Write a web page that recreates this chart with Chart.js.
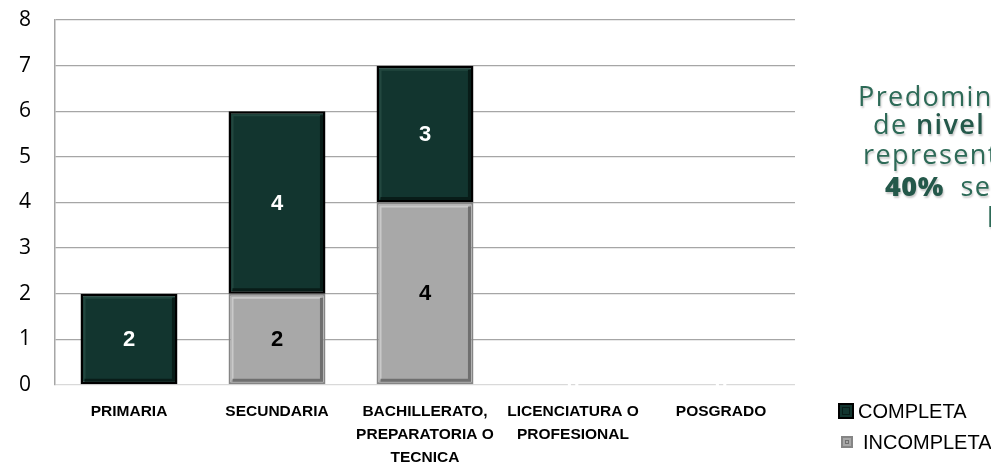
<!DOCTYPE html>
<html>
<head>
<meta charset="utf-8">
<script src="https://cdn.jsdelivr.net/npm/chart.js@4"></script>
<style>
  html, body { margin: 0; padding: 0; background: #fff; overflow: hidden; }
  #wrap { position: relative; width: 991px; height: 462px; overflow: hidden; }
  #note { position: absolute; left: 0; top: 0; width: 991px; height: 462px; pointer-events: none;
          font-family: "Open Sans"; font-size: 27px; line-height: 30px; letter-spacing: 1.4px; color: #2d6a57; }
  .ln { position: absolute; white-space: nowrap; text-shadow: 1px 2px 2px rgba(0,0,0,0.22); }
  .hl { font-weight: 600; color: #24584a; }
  .big { font-weight: 800; color: #24584a; letter-spacing: 0.5px; }
</style>
</head>
<body>
<div id="wrap">
  <canvas id="myChart" width="991" height="462"></canvas>
  <div id="note">
    <div class="ln" style="left:858px; top:81px;">Predominan las personas</div>
    <div class="ln" style="left:873px; top:109px;">de <span class="hl">nivel</span> medio superior,</div>
    <div class="ln" style="left:863px; top:139px;">representando un</div>
    <div class="ln" style="left:885px; top:171px;"><span class="big">40%</span>&nbsp; seguido de</div>
    <div class="ln" style="left:987px; top:202px;">la secundaria</div>
  </div>
</div>
<script>
var categories = [["PRIMARIA"], ["SECUNDARIA"], ["BACHILLERATO,", "PREPARATORIA O", "TECNICA"], ["LICENCIATURA O", "PROFESIONAL"], ["POSGRADO"]];
var completa = [2, 4, 3, 0, 0];   // parte oscura (arriba)
var incompleta = [0, 2, 4, 0, 0]; // parte gris (abajo)
var yMin = 0, yMax = 8, yStep = 1;

// relieve de las barras (estilo biselado)
var bevel = {
  id: "bevel",
  afterDatasetsDraw: function (chart) {
    var c = chart.ctx;
    chart.data.datasets.forEach(function (ds, di) {
      chart.getDatasetMeta(di).data.forEach(function (bar, i) {
        if (!ds.data[i]) return;
        var p = bar.getProps(["x", "y", "base", "width"], true);
        var l = p.x - p.width / 2, r = p.x + p.width / 2, t = Math.min(p.y, p.base), b = Math.max(p.y, p.base);
        var ins = ds.bevelInset;
        c.save();
        c.lineWidth = 2;
        c.strokeStyle = ds.bevelLight;
        c.beginPath();
        c.moveTo(l + ins, b - ins); c.lineTo(l + ins, t + ins); c.lineTo(r - ins, t + ins);
        c.stroke();
        c.strokeStyle = ds.bevelDark;
        c.lineWidth = 3;
        c.beginPath();
        c.moveTo(r - ins, t + ins); c.lineTo(r - ins, b - ins); c.lineTo(l + ins, b - ins);
        c.stroke();
        c.restore();
      });
    });
  }
};

// etiquetas de valor dentro de las barras
var valueLabels = {
  id: "valueLabels",
  afterDatasetsDraw: function (chart) {
    var c = chart.ctx;
    c.save();
    c.font = "bold 22px 'Liberation Sans'";
    c.textAlign = "center";
    c.textBaseline = "middle";
    chart.data.datasets.forEach(function (ds, di) {
      chart.getDatasetMeta(di).data.forEach(function (bar, i) {
        var v = ds.data[i];
        if (v === 0 && ds.labelColor !== "#fff") return;
        var p = bar.getProps(["x", "y", "base"], true);
        c.fillStyle = ds.labelColor;
        c.fillText(String(v), p.x, (p.y + p.base) / 2 + 1);
      });
    });
    c.restore();
  }
};

// leyenda abajo a la derecha
var legendBox = {
  id: "legendBox",
  afterDraw: function (chart) {
    var c = chart.ctx;
    var items = [
      { ds: chart.data.datasets[1], x: 838, y: 403, s: 16 },
      { ds: chart.data.datasets[0], x: 841, y: 436, s: 12 }
    ];
    c.save();
    c.font = "20px 'Liberation Sans'";
    c.textBaseline = "middle";
    items.forEach(function (it) {
      c.fillStyle = it.ds.borderColor;
      c.fillRect(it.x, it.y, it.s, it.s);
      c.fillStyle = it.ds.backgroundColor;
      c.fillRect(it.x + 2, it.y + 2, it.s - 4, it.s - 4);
      c.strokeStyle = it.ds.bevelDark;
      c.lineWidth = 1;
      c.strokeRect(it.x + 4.5, it.y + 4.5, it.s - 9, it.s - 9);
      c.fillStyle = "#000";
      c.fillText(it.ds.label, it.x + it.s + (it.s > 14 ? 4 : 10), it.y + it.s / 2 + 1);
    });
    c.restore();
  }
};

var ctx = document.getElementById("myChart").getContext("2d");
var myChart = new Chart(ctx, {
  type: "bar",
  data: {
    labels: categories,
    datasets: [
      {
        label: "INCOMPLETA",
        data: incompleta,
        backgroundColor: "#a8a8a8",
        borderColor: "#858585",
        borderWidth: 2,
        borderSkipped: false,
        bevelLight: "#c9c9c9",
        bevelDark: "#6f6f6f",
        bevelInset: 4,
        labelColor: "#000"
      },
      {
        label: "COMPLETA",
        data: completa,
        backgroundColor: "#12352f",
        borderColor: "#000000",
        borderWidth: 2.5,
        borderSkipped: false,
        bevelLight: "#22473f",
        bevelDark: "#081c18",
        bevelInset: 4,
        labelColor: "#fff"
      }
    ]
  },
  options: {
    responsive: false,
    animation: false,
    layout: { padding: { top: 20, right: 196, bottom: 0, left: 0 } },
    datasets: { bar: { categoryPercentage: 1, barPercentage: 0.655 } },
    plugins: { legend: { display: false }, tooltip: { enabled: false } },
    scales: {
      x: {
        stacked: true,
        grid: { display: false },
        border: { display: false },
        ticks: {
          color: "#000",
          font: { family: "Liberation Sans", size: 15.5, weight: "bold", lineHeight: 1.5 },
          padding: 7,
          maxRotation: 0,
          autoSkip: false
        },
        afterFit: function (s) { s.height = 77; }
      },
      y: {
        stacked: true,
        min: yMin,
        max: yMax,
        ticks: { stepSize: yStep, color: "#000", font: { family: "Open Sans", size: 21 }, padding: 24 },
        grid: {
          color: function (g) { return g.tick && g.tick.value === 0 ? "#d9d9d9" : "#a6a6a6"; },
          lineWidth: 1.3,
          drawTicks: false
        },
        border: { display: true, color: "#a6a6a6", width: 1.5 },
        afterFit: function (s) { s.width = 55; s.paddingTop = 0; s.paddingBottom = 0; }
      }
    }
  },
  plugins: [bevel, valueLabels, legendBox]
});
</script>
</body>
</html>
